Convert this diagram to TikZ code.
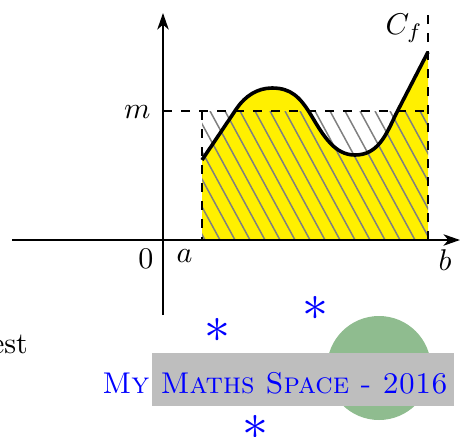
\documentclass[tikz,border=0pt]{standalone}
\usetikzlibrary{arrows.meta}
\definecolor{hatchgray}{RGB}{128,128,128}
\definecolor{boxgray}{RGB}{190,190,190}
\definecolor{circgreen}{RGB}{143,188,143}
\definecolor{fillyellow}{RGB}{255,240,0}
\tikzset{
  axis/.style={line width=0.7pt,-{Stealth[length=5.5pt,width=3.8pt,inset=1.6pt]}},
  guide/.style={line width=0.7pt,dashed},
  hatchline/.style={hatchgray,line width=0.5pt},
  curveline/.style={line width=1.2pt,line join=round},
  lbl/.style={inner sep=0pt},
  star/.style={inner sep=0pt,text=blue,font=\LARGE},
}
\begin{document}
\begin{tikzpicture}[x=0.33333pt,y=-0.33333pt]
\useasboundingbox (0,0) rectangle (460,436);
\clip (0,0) rectangle (460,436);
% yellow area under the curve
\fill[fillyellow] (202,240) -- (202,160) -- (237,108) .. controls (245,96.5) and (257,88) .. (272,88)
  .. controls (291,88) and (300,97) .. (311,115)
  .. controls (324,137) and (335,155) .. (355,155)
  .. controls (378,155) and (386,135) .. (396,114) -- (428,52) -- (428,240) -- cycle;
% hatching of the rectangle [a,b] x [0,m]
\begin{scope}
  \clip (202,111) rectangle (428,240);
  \foreach \k in {-9,...,14} {
    \draw[hatchline] ({310+15*\k},240) -- ({310+15*\k-70},111);
  }
\end{scope}
% guides
\coordinate (mY) at (163,111);
\coordinate (mA) at (202,111);
\coordinate (mB) at (428,111);
\coordinate (aX) at (202,240);
\coordinate (bX) at (428,240);
\coordinate (bTop) at (428,14);
\draw[guide] (mY) -- (mB);
\draw[guide] (mA) -- (aX);
\draw[guide] (bX) -- (bTop);
% axes
\coordinate (xs) at (12,240);
\coordinate (xe) at (460,240);
\coordinate (ys) at (163,315);
\coordinate (ye) at (163,13);
\draw[axis] (xs) -- (xe);
\draw[axis] (ys) -- (ye);
% curve
\draw[curveline] (202,160) -- (237,108) .. controls (245,96.5) and (257,88) .. (272,88)
  .. controls (291,88) and (300,97) .. (311,115)
  .. controls (324,137) and (335,155) .. (355,155)
  .. controls (378,155) and (386,135) .. (396,114) -- (428,52);
% labels
\node[lbl,anchor=base east] (lm) at (151,118) {$m$};
\node[lbl,anchor=base] (l0) at (146,268) {$0$};
\node[lbl,anchor=base] (la) at (184.5,262) {$a$};
\node[lbl,anchor=base] (lb) at (445,270) {$b$};
\node[lbl,anchor=base west] (lc) at (385,34) {$C_f$};
\node[lbl,anchor=base east] (lest) at (28.5,353) {est};
% watermark
\fill[circgreen] (379,368) circle (52);
\fill[boxgray] (152,353) rectangle (454,406);
\node[lbl,anchor=base,text=blue] (brand) at (275,393) {\scalebox{0.98}[1]{\textsc{My Maths Space - 2016}}};
\node[star] (s1) at (217,330) {$\ast$};
\node[star] (s2) at (315,308) {$\ast$};
\node[star] (s3) at (255,427) {$\ast$};
\end{tikzpicture}
\end{document}
